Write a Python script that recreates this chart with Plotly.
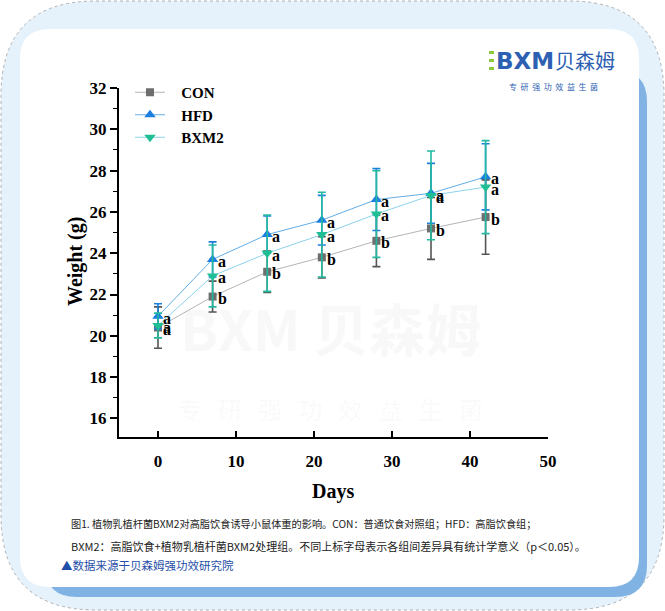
import plotly.graph_objects as go

# ---------------- data ----------------
days = [0, 7, 14, 21, 28, 35, 42]
con = [20.4, 21.9, 23.1, 23.8, 24.6, 25.2, 25.75]
con_sd = [1.0, 0.75, 1.0, 1.0, 1.25, 1.5, 1.8]
hfd = [20.95, 23.7, 24.9, 25.6, 26.6, 26.9, 27.7]
hfd_sd = [0.6, 0.85, 0.9, 1.2, 1.5, 1.45, 1.6]
bxm2 = [20.5, 22.9, 24.0, 24.9, 25.9, 26.8, 27.2]
bxm2_sd = [0.6, 1.5, 1.85, 2.05, 2.1, 2.15, 2.25]
con_lab = ["a", "b", "b", "b", "b", "b", "b"]
hfd_lab = ["a", "a", "a", "a", "a", "a", "a"]
bxm2_lab = ["a", "a", "a", "a", "a", "a", "a"]
series_names = ["CON", "HFD", "BXM2"]
y_ticks = [16, 18, 20, 22, 24, 26, 28, 30, 32]
x_ticks = [0, 10, 20, 30, 40, 50]

caption1 = "图1. 植物乳植杆菌BXM2对高脂饮食诱导小鼠体重的影响。CON：普通饮食对照组；HFD：高脂饮食组；"
caption2 = "BXM2：高脂饮食+植物乳植杆菌BXM2处理组。不同上标字母表示各组间差异具有统计学意义（p＜0.05）。"
source = "▲数据来源于贝森姆强功效研究院"

# ---------------- geometry ----------------
WIDTH, HEIGHT = 665, 611
L, R, T, B = 119, 117, 88, 174
PW, PH = WIDTH - L - R, HEIGHT - T - B


def px(x):
    return (x - L) / PW


def py(y):
    return 1 - (y - T) / PH


def rrect(x0, y0, x1, y1, r):
    def p(x, y):
        return f"{px(x):.5f},{py(y):.5f}"
    return (f"M {p(x0 + r, y0)} L {p(x1 - r, y0)} Q {p(x1, y0)} {p(x1, y0 + r)} "
            f"L {p(x1, y1 - r)} Q {p(x1, y1)} {p(x1 - r, y1)} "
            f"L {p(x0 + r, y1)} Q {p(x0, y1)} {p(x0, y1 - r)} "
            f"L {p(x0, y0 + r)} Q {p(x0, y0)} {p(x0 + r, y0)} Z")


SERIF = "Liberation Serif"
CJK = "Noto Sans CJK SC"

fig = go.Figure()

styles = [
    dict(y=con, sd=con_sd, line="#b4b4b4", marker="#6e6e6e", sym="square", err="#555555", size=8),
    dict(y=hfd, sd=hfd_sd, line="#62aee8", marker="#1c7fe0", sym="triangle-up", err="#1c7fe0", size=10),
    dict(y=bxm2, sd=bxm2_sd, line="#8dd3ec", marker="#1fbf96", sym="triangle-down", err="#22b9a0", size=10),
]
for name, st in zip(series_names, styles):
    fig.add_trace(go.Scatter(
        x=days, y=st["y"], name="\u00a0\u00a0\u00a0<b>" + name + "</b>", mode="lines+markers",
        line=dict(color=st["line"], width=1),
        marker=dict(symbol=st["sym"], color=st["marker"], size=st["size"]),
        error_y=dict(type="data", array=st["sd"], visible=True, color=st["err"],
                     thickness=1.6, width=4),
    ))

# significance letters
for vals, labs in [(con, con_lab), (hfd, hfd_lab), (bxm2, bxm2_lab)]:
    for d, v, t in zip(days, vals, labs):
        fig.add_annotation(x=d, y=v, text=f"<b>{t}</b>", showarrow=False,
                           xanchor="left", yanchor="middle", xshift=3, yshift=-2,
                           font=dict(family=SERIF, size=16, color="black"))

shapes = [
    dict(type="path", path=rrect(1, 1, 664, 610, 95), xref="paper", yref="paper",
         fillcolor="#e5f2fc", line=dict(color="#b0b0b0", width=1, dash="dot"), layer="below"),
    dict(type="path", path=rrect(45, 70, 647, 597, 32), xref="paper", yref="paper",
         fillcolor="#80b3e3", line=dict(width=0), layer="below"),
    dict(type="path", path=rrect(20, 29, 639, 587, 30), xref="paper", yref="paper",
         fillcolor="#ffffff", line=dict(width=0), layer="below"),
]
for yy in [51, 59, 67]:
    shapes.append(dict(type="rect", xref="paper", yref="paper",
                       x0=px(489), x1=px(494), y0=py(yy), y1=py(yy + 3),
                       fillcolor="#8cc63f", line=dict(width=0), layer="above"))

fig.update_layout(shapes=shapes)

ann = [
    dict(x=px(330), y=py(326), text="<b>BXM 贝森姆</b>", font=dict(family=CJK, size=56, color="rgba(120,120,120,0.05)")),
    dict(x=px(330), y=py(408), text="专   研   强   功   效   益   生   菌", font=dict(family=CJK, size=24, color="rgba(120,120,120,0.05)")),
    dict(x=px(494), y=py(61), text="<b>BXM</b>", xanchor="left", font=dict(family="DejaVu Sans", size=23, color="#2d5fb2")),
    dict(x=px(585), y=py(61), text="贝森姆", font=dict(family=CJK, size=20, color="#2d5fb2")),
    dict(x=px(553), y=py(86), text="专  研  强  功  效  益  生  菌", font=dict(family=CJK, size=8, color="#2d5fb2")),
    dict(x=px(333), y=py(492), text="<b>Days</b>", font=dict(family=SERIF, size=20, color="black")),
    dict(x=px(75), y=py(262), text="<b>Weight (g)</b>", textangle=-90, font=dict(family=SERIF, size=20, color="black")),
    dict(x=px(69), y=py(523), text=caption1, xanchor="left", font=dict(family=CJK, size=10.2, color="#222222")),
    dict(x=px(69), y=py(546), text=caption2, xanchor="left", font=dict(family=CJK, size=11, color="#222222")),
    dict(x=px(59), y=py(565), text=source, xanchor="left", font=dict(family=CJK, size=11.5, color="#1f4fa8")),
]
for a in ann:
    a.setdefault("xanchor", "center")
    fig.add_annotation(xref="paper", yref="paper", showarrow=False, yanchor="middle", **a)

fig.update_layout(
    width=WIDTH, height=HEIGHT,
    margin=dict(l=L, r=R, t=T, b=B),
    paper_bgcolor="white", plot_bgcolor="rgba(0,0,0,0)",
    showlegend=True,
    legend=dict(x=px(130), y=py(76), xanchor="left", yanchor="top",
                bgcolor="rgba(0,0,0,0)", font=dict(family=SERIF, size=15, color="black"),
                tracegroupgap=0, itemwidth=30),
)
fig.update_xaxes(range=[-5, 50], tickvals=x_ticks, ticktext=[f"<b>{v}</b>" for v in x_ticks],
                 ticks="inside", ticklen=6, tickwidth=1.5,
                 tickcolor="black", showline=True, linecolor="black", linewidth=2,
                 showgrid=False, zeroline=False,
                 tickfont=dict(family=SERIF, size=17, color="black"), ticklabelstandoff=8)
fig.update_yaxes(range=[15.1, 32], tickvals=y_ticks, ticktext=[f"<b>{v}</b>" for v in y_ticks],
                 ticks="outside", ticklen=7, tickwidth=1.5,
                 tickcolor="black", showline=True, linecolor="black", linewidth=2,
                 showgrid=False, zeroline=False,
                 minor=dict(dtick=1, ticks="outside", ticklen=4, tickwidth=1.2, tickcolor="black"),
                 tickfont=dict(family=SERIF, size=17, color="black"))

fig.write_html("out.html", config={"displayModeBar": False},
               post_script="document.body.style.margin='0px';document.body.style.overflow='hidden';")
